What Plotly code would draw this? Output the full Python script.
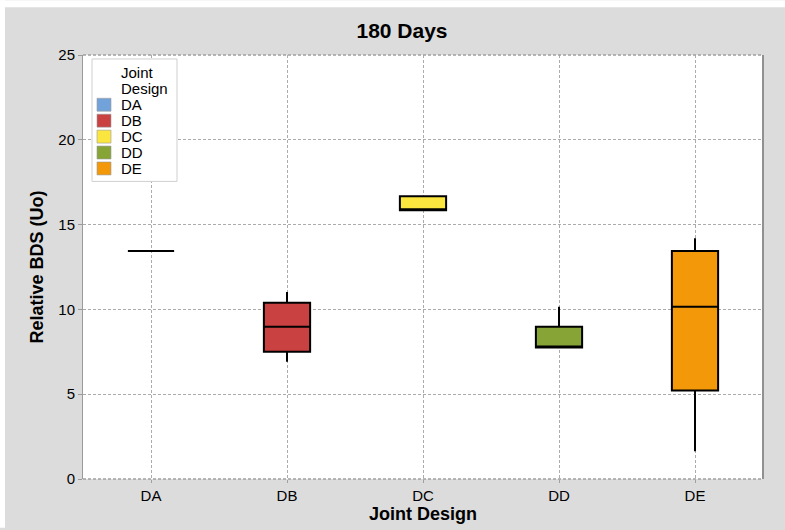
import plotly.graph_objects as go

# Box-plot summary statistics for each joint design (relative BDS, Uo)
designs = ["DA", "DB", "DC", "DD", "DE"]
lower_fence = [13.44, 6.92, 15.84, 7.75, 1.64]
q1 = [13.44, 7.51, 15.84, 7.75, 5.22]
median = [13.44, 8.98, 15.84, 7.75, 10.15]
q3 = [13.44, 10.39, 16.67, 8.98, 13.44]
upper_fence = [13.44, 11.03, 16.67, 10.15, 14.2]
colors = ["#72a2da", "#c94141", "#fae63e", "#87a436", "#f39808"]

W, H = 785, 530
ML, MR, MT, MB = 83, 22, 55, 49
PW, PH = W - ML - MR, H - MT - MB
font = "Liberation Sans, Arial, sans-serif"


def px(x):
    """page x pixel -> paper fraction"""
    return (x - ML) / PW


def py(y):
    """page y pixel (from top) -> paper fraction"""
    return 1 - (y - MT) / PH


fig = go.Figure()
for i, d in enumerate(designs):
    fig.add_trace(go.Box(
        name=d,
        x=[d],
        q1=[q1[i]], median=[median[i]], q3=[q3[i]],
        lowerfence=[lower_fence[i]], upperfence=[upper_fence[i]],
        fillcolor=colors[i],
        line=dict(color="black", width=2),
        whiskerwidth=0,
        width=0.34,
        boxpoints=False,
        showlegend=False,
    ))

grid = dict(showgrid=True, gridcolor="#ababab", griddash="3px,2px", gridwidth=1)

fig.update_layout(
    width=W, height=H,
    margin=dict(l=ML, r=MR, t=MT, b=MB),
    paper_bgcolor="#dcdcdc",
    plot_bgcolor="white",
    font=dict(family=font, size=15, color="black"),
    boxmode="overlay",
    showlegend=False,
    title=dict(text="<b>180 Days</b>", x=402 / W, xanchor="center",
               y=1 - 31 / H, yanchor="middle", xref="container", yref="container",
               font=dict(size=21, family=font)),
    xaxis=dict(
        title=dict(text="<b>Joint Design</b>", font=dict(size=18), standoff=1),
        categoryorder="array", categoryarray=designs,
        range=[-0.5, 4.5],
        showline=False,
        ticks="outside", ticklen=3, tickcolor="#a0a0a0",
        zeroline=False, **grid,
    ),
    yaxis=dict(
        title=dict(text="<b>Relative BDS (Uo)</b>", font=dict(size=18), standoff=10),
        range=[0, 25], dtick=5,
        showline=True, linecolor="#9a9a9a", linewidth=1,
        ticks="outside", ticklen=4, tickcolor="#9a9a9a",
        zeroline=False, **grid,
    ),
)

# frame: dotted top and bottom edges, solid right edge
for yv in (0, 1):
    fig.add_shape(type="line", xref="paper", yref="paper", x0=0, x1=1, y0=yv, y1=yv,
                  line=dict(color="#a0a0a0", width=1.5, dash="3px,2px"))
fig.add_shape(type="line", xref="paper", yref="paper", x0=1, x1=1, y0=0, y1=1,
              line=dict(color="#909090", width=2))

# legend panel
fig.add_shape(type="rect", xref="paper", yref="paper",
              x0=px(92), x1=px(177), y0=py(182), y1=py(59),
              fillcolor="white", line=dict(color="#cfcfcf", width=1))
for text, yc in (("Joint", 73), ("Design", 89)):
    fig.add_annotation(xref="paper", yref="paper", x=px(119), y=py(yc),
                       xanchor="left", yanchor="middle", showarrow=False,
                       text=text, font=dict(size=15, family=font))
y0_item, dy_item = 105, 16
for i, d in enumerate(designs):
    yc = y0_item + i * dy_item
    fig.add_shape(type="rect", xref="paper", yref="paper",
                  x0=px(97), x1=px(111), y0=py(yc + 6.5), y1=py(yc - 6.5),
                  fillcolor=colors[i], line=dict(color="#9a9a9a", width=0.6))
    fig.add_annotation(xref="paper", yref="paper", x=px(119), y=py(yc),
                       xanchor="left", yanchor="middle", showarrow=False,
                       text=d, font=dict(size=15, family=font))

# thin white margin along the top and left edges of the page
fig.add_shape(type="rect", xref="paper", yref="paper",
              x0=px(0), x1=px(W), y0=py(7), y1=py(0),
              fillcolor="white", line_width=0, layer="below")
fig.add_shape(type="rect", xref="paper", yref="paper",
              x0=px(0), x1=px(5), y0=py(H), y1=py(0),
              fillcolor="white", line_width=0, layer="below")

fig.write_html("out.html")
